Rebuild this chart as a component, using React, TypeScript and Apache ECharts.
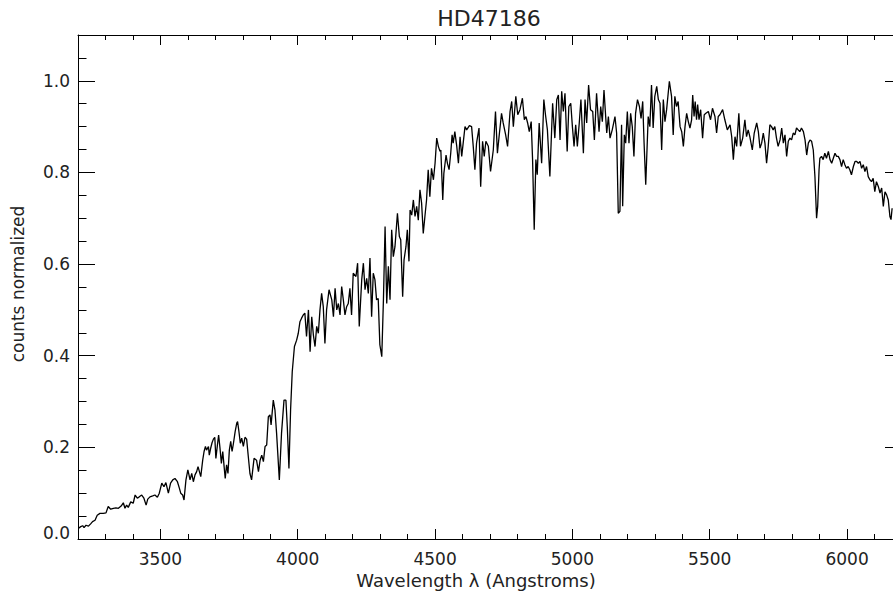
import React, { useEffect, useRef } from "react";
import * as echarts from "echarts";

// Spectrum of HD47186: wavelength in Angstroms and normalized counts.
const wavelengths = [
  3201, 3210, 3217, 3222, 3229, 3238, 3246, 3253, 3262, 3270, 3280, 3292, 3302, 3310, 3319, 3329,
  3338, 3347, 3357, 3365, 3371, 3377, 3383, 3392, 3401, 3408, 3416, 3423, 3432, 3440, 3448, 3454,
  3462, 3472, 3480, 3489, 3496, 3505, 3513, 3520, 3529, 3537, 3545, 3553, 3562, 3569, 3574, 3581,
  3586, 3593, 3600, 3608, 3614, 3620, 3626, 3632, 3637, 3642, 3647, 3654, 3659, 3664, 3668, 3675,
  3678, 3683, 3688, 3693, 3698, 3702, 3707, 3712, 3717, 3722, 3727, 3732, 3736, 3741, 3746, 3751,
  3756, 3761, 3766, 3772, 3778, 3781, 3786, 3791, 3796, 3802, 3808, 3814, 3820, 3826,
  3832, 3841, 3850, 3857, 3863, 3869, 3875, 3881, 3887, 3893, 3899, 3903, 3911, 3917, 3923, 3933,
  3941, 3950, 3957, 3962, 3968, 3974, 3980, 3988, 3996, 4002, 4008, 4014,
  4020, 4026, 4032, 4039, 4045, 4051, 4057, 4063, 4069, 4075, 4081, 4087, 4093, 4099, 4105, 4114,
  4124, 4130, 4136, 4142, 4148, 4154, 4160, 4166, 4172, 4178, 4184, 4190, 4196, 4202, 4212, 4218,
  4224, 4233, 4239, 4245, 4251, 4257, 4263, 4269, 4275, 4281, 4287, 4293, 4299, 4306, 4312, 4318,
  4324, 4330, 4336, 4342, 4348, 4354, 4363, 4370, 4375, 4382, 4387, 4394, 4399, 4405,
  4409, 4415, 4421, 4427, 4433, 4439, 4445, 4451, 4457, 4463, 4469, 4475, 4481, 4487, 4494, 4500,
  4506, 4512, 4518, 4521, 4528, 4532, 4540, 4545, 4551, 4557, 4562, 4566, 4572, 4579, 4585, 4591,
  4597, 4609, 4615, 4625, 4633, 4639, 4645, 4651, 4660, 4666, 4673, 4679, 4685, 4694, 4702, 4712,
  4720, 4727, 4733, 4742, 4748, 4757, 4764, 4773, 4779, 4785, 4794, 4801, 4809, 4818, 4825, 4831,
  4837, 4843, 4850, 4855, 4861, 4867, 4872, 4879, 4888, 4896, 4902, 4909, 4918, 4928, 4936, 4943,
  4949, 4955, 4961, 4967, 4973, 4981, 4987, 4994, 5000, 5006, 5012, 5018, 5025, 5031, 5040, 5046,
  5052, 5059, 5066, 5074, 5080, 5088, 5097, 5103, 5109, 5115, 5125, 5131, 5137, 5145, 5155, 5161,
  5167, 5173, 5179, 5183, 5189, 5194, 5200, 5206, 5212, 5218, 5224, 5230, 5237, 5244, 5250, 5256,
  5261, 5267, 5276, 5282, 5288, 5294, 5300, 5307, 5313, 5319, 5325, 5331, 5337, 5343, 5353,
  5361, 5367, 5373, 5379, 5385, 5392, 5398, 5404, 5410, 5416, 5422, 5428, 5434, 5438, 5443, 5447,
  5452, 5456, 5461, 5467, 5474, 5480, 5486, 5495, 5503, 5510, 5519, 5525, 5531, 5537, 5547, 5555,
  5564, 5574, 5580, 5586, 5592, 5598, 5606, 5612, 5620, 5628, 5634, 5640, 5646, 5655, 5662, 5671,
  5677, 5683, 5689, 5695, 5701, 5707, 5713, 5719, 5725, 5731, 5737, 5743, 5749, 5756, 5762, 5768,
  5774, 5780, 5786, 5792, 5798, 5804, 5810, 5816, 5822, 5828, 5834, 5841, 5847, 5853, 5859, 5865,
  5871, 5877, 5883, 5889, 5893, 5898, 5901, 5907, 5913, 5919, 5925, 5932, 5938, 5944, 5950, 5956,
  5962, 5968, 5974, 5980, 5986, 5992, 5998, 6004, 6010, 6016, 6023, 6029, 6035, 6041, 6047, 6053,
  6059, 6065, 6071, 6077, 6083, 6089, 6095, 6101, 6107, 6114, 6120, 6126, 6132, 6138, 6144, 6150,
  6156, 6160, 6164,
];

const counts = [
  0.023, 0.027, 0.029, 0.025, 0.030, 0.028, 0.033, 0.038, 0.041, 0.052, 0.056, 0.056, 0.057, 0.071, 0.065, 0.067,
  0.068, 0.067, 0.072, 0.079, 0.067, 0.074, 0.069, 0.081, 0.078, 0.096, 0.089, 0.092, 0.096, 0.089, 0.074, 0.087,
  0.092, 0.094, 0.096, 0.091, 0.100, 0.122, 0.114, 0.123, 0.100, 0.122, 0.129, 0.132, 0.125, 0.111, 0.100, 0.096,
  0.085, 0.129, 0.151, 0.129, 0.143, 0.125, 0.140, 0.147, 0.158, 0.147, 0.136, 0.172, 0.191, 0.202, 0.194, 0.202,
  0.183, 0.198, 0.210, 0.218, 0.222, 0.176, 0.202, 0.227, 0.198, 0.165, 0.191, 0.158, 0.132, 0.162, 0.143, 0.194,
  0.213, 0.191, 0.209, 0.234, 0.253, 0.256, 0.234, 0.209, 0.220, 0.202, 0.222, 0.218, 0.180, 0.143,
  0.129, 0.176, 0.172, 0.147, 0.172, 0.183, 0.169, 0.202, 0.205, 0.267, 0.271, 0.249, 0.303, 0.282, 0.231, 0.129,
  0.231, 0.303, 0.303, 0.245, 0.154, 0.282, 0.365, 0.420, 0.434, 0.449, 0.474, 0.482,
  0.489, 0.493, 0.442, 0.500, 0.409, 0.485, 0.445, 0.420, 0.464, 0.449, 0.500, 0.536, 0.507, 0.427, 0.500, 0.544,
  0.522, 0.485, 0.547, 0.500, 0.514, 0.489, 0.551, 0.522, 0.489, 0.507, 0.514, 0.547, 0.489, 0.580, 0.573, 0.602,
  0.464, 0.566, 0.602, 0.544, 0.569, 0.536, 0.613, 0.485, 0.580, 0.566, 0.522, 0.525, 0.424, 0.398, 0.522, 0.682,
  0.514, 0.595, 0.522, 0.675, 0.616, 0.638, 0.711, 0.660, 0.653, 0.529, 0.609, 0.638, 0.675, 0.606,
  0.718, 0.707, 0.740, 0.704, 0.726, 0.696, 0.762, 0.733, 0.667, 0.704, 0.740, 0.806, 0.747, 0.809, 0.784, 0.820,
  0.875, 0.857, 0.846, 0.849, 0.740, 0.798, 0.838, 0.820, 0.806, 0.842, 0.882, 0.864, 0.889, 0.857, 0.820, 0.878,
  0.835, 0.900, 0.893, 0.902, 0.900, 0.857, 0.806, 0.864, 0.897, 0.769, 0.868, 0.835, 0.868, 0.857, 0.802, 0.849,
  0.933, 0.842, 0.878, 0.929, 0.908, 0.882, 0.857, 0.933, 0.955, 0.900, 0.966, 0.926, 0.937, 0.962, 0.915, 0.922,
  0.908, 0.889, 0.911, 0.828, 0.675, 0.828, 0.795, 0.908, 0.820, 0.959, 0.926, 0.893, 0.791, 0.951, 0.875, 0.959,
  0.969, 0.871, 0.977, 0.933, 0.973, 0.846, 0.944, 0.951, 0.900, 0.857, 0.904, 0.857, 0.908, 0.959, 0.842, 0.959,
  0.908, 0.991, 0.937, 0.933, 0.871, 0.973, 0.889, 0.944, 0.911, 0.980, 0.886, 0.922, 0.875, 0.893, 0.922, 0.886,
  0.711, 0.715, 0.904, 0.726, 0.882, 0.864, 0.933, 0.864, 0.929, 0.900, 0.835, 0.929, 0.959, 0.944, 0.918, 0.955,
  0.864, 0.773, 0.922, 0.900, 0.991, 0.897, 0.966, 0.988, 0.959, 0.951, 0.849, 0.959, 0.911, 0.937, 0.999,
  0.966, 0.882, 0.966, 0.944, 0.955, 0.900, 0.889, 0.857, 0.900, 0.929, 0.911, 0.897, 0.915, 0.969, 0.922, 0.955,
  0.915, 0.948, 0.915, 0.937, 0.875, 0.926, 0.929, 0.933, 0.915, 0.940, 0.922, 0.886, 0.922, 0.926, 0.937, 0.915,
  0.893, 0.904, 0.878, 0.828, 0.878, 0.857, 0.929, 0.857, 0.875, 0.915, 0.878, 0.893, 0.878, 0.849, 0.886, 0.908,
  0.889, 0.853, 0.864, 0.886, 0.864, 0.820, 0.857, 0.904, 0.900, 0.893, 0.900, 0.875, 0.857, 0.871, 0.897, 0.864,
  0.882, 0.835, 0.868, 0.875, 0.871, 0.886, 0.882, 0.897, 0.893, 0.889, 0.897, 0.889, 0.871, 0.838, 0.864, 0.871,
  0.868, 0.849, 0.791, 0.700, 0.726, 0.806, 0.831, 0.835, 0.828, 0.842, 0.831, 0.846, 0.828, 0.820, 0.831, 0.842,
  0.835, 0.835, 0.828, 0.813, 0.828, 0.817, 0.809, 0.813, 0.806, 0.795, 0.813, 0.824, 0.824, 0.820, 0.824, 0.809,
  0.817, 0.802, 0.813, 0.791, 0.784, 0.780, 0.787, 0.758, 0.780, 0.769, 0.755, 0.766, 0.726, 0.758, 0.751, 0.740,
  0.704, 0.697, 0.722,
];

// Axis ranges
const xRange = [3200, 6200];
const yRange = [0, 1.1];
const yStep = 0.2;

const chartTitle = "HD47186";
const xTitle = "Wavelength \u03bb (Angstroms)";
const yTitle = "counts normalized";

const FONT = "DejaVu Sans";
const INK = "#222";

function makeOption() {
  const data = wavelengths.map((w, i) => [w, counts[i]]);

  const black = { color: "#000", width: 1 };
  const xCommon = {
    type: "value",
    min: xRange[0],
    max: xRange[1],
    splitNumber: 6,
    axisLine: { show: true, onZero: false, lineStyle: black },
    axisTick: { show: true, inside: true, length: 10, lineStyle: black },
    minorTick: { show: true, splitNumber: 5, length: 5, lineStyle: black },
    splitLine: { show: false },
    minorSplitLine: { show: false },
  };
  const yCommon = {
    type: "value",
    min: yRange[0],
    max: yRange[1],
    interval: yStep,
    axisLine: { show: true, onZero: false, lineStyle: black },
    axisTick: { show: true, inside: true, length: 17, lineStyle: black },
    minorTick: { show: true, splitNumber: 4, length: 8.5, lineStyle: black },
    splitLine: { show: false },
    minorSplitLine: { show: false },
  };

  return {
    animation: false,
    backgroundColor: "#ffffff",
    grid: {
      left: 78,
      top: 35,
      width: 824,
      height: 504,
      containLabel: false,
      outerBoundsMode: "none",
    },
    xAxis: [
      {
        ...xCommon,
        position: "bottom",
        axisLabel: {
          show: true,
          margin: 11,
          fontFamily: FONT,
          fontSize: 17,
          color: INK,
          showMinLabel: false,
          showMaxLabel: false,
          formatter: (v: number) => String(v),
        },
      },
      { ...xCommon, position: "top", axisLabel: { show: false } },
    ],
    yAxis: [
      {
        ...yCommon,
        position: "left",
        axisLabel: {
          show: true,
          margin: 8,
          fontFamily: FONT,
          fontSize: 17,
          color: INK,
          showMaxLabel: false,
          // the bottom label sits a little above its tick
          formatter: (v: number) => (v === 0 ? "{zero|" + v.toFixed(1) + "}" : v.toFixed(1)),
          rich: {
            zero: {
              fontFamily: FONT,
              fontSize: 17,
              color: INK,
              padding: [0, 0, 12, 0],
            },
          },
        },
      },
      {
        ...yCommon,
        position: "right",
        axisLabel: { show: false },
        minorTick: { ...yCommon.minorTick, length: 8 },
      },
    ],
    graphic: [
      {
        type: "text",
        x: 489,
        y: 18,
        style: {
          text: chartTitle,
          fontFamily: FONT,
          fontSize: 22,
          fill: INK,
          align: "center",
          verticalAlign: "middle",
        },
      },
      {
        type: "text",
        x: 476,
        y: 580,
        style: {
          text: xTitle,
          fontFamily: FONT,
          fontSize: 18,
          fill: INK,
          align: "center",
          verticalAlign: "middle",
        },
      },
      {
        type: "text",
        x: 18,
        y: 284,
        rotation: Math.PI / 2,
        style: {
          text: yTitle,
          fontFamily: FONT,
          fontSize: 17,
          fill: INK,
          align: "center",
          verticalAlign: "middle",
        },
      },
    ],
    series: [
      {
        type: "line",
        xAxisIndex: 0,
        yAxisIndex: 0,
        data,
        showSymbol: false,
        symbol: "none",
        silent: true,
        clip: true,
        lineStyle: { color: "#000", width: 1.3 },
      },
    ],
  };
}

export default function App() {
  const ref = useRef<HTMLDivElement>(null);

  useEffect(() => {
    if (!ref.current) return;
    const chart = echarts.init(ref.current, null, { renderer: "svg" });
    chart.setOption(makeOption() as any);
    return () => chart.dispose();
  }, []);

  return (
    <div
      ref={ref}
      style={{
        position: "fixed",
        left: 0,
        top: 0,
        width: 893,
        height: 592,
        background: "#fff",
      }}
    />
  );
}
